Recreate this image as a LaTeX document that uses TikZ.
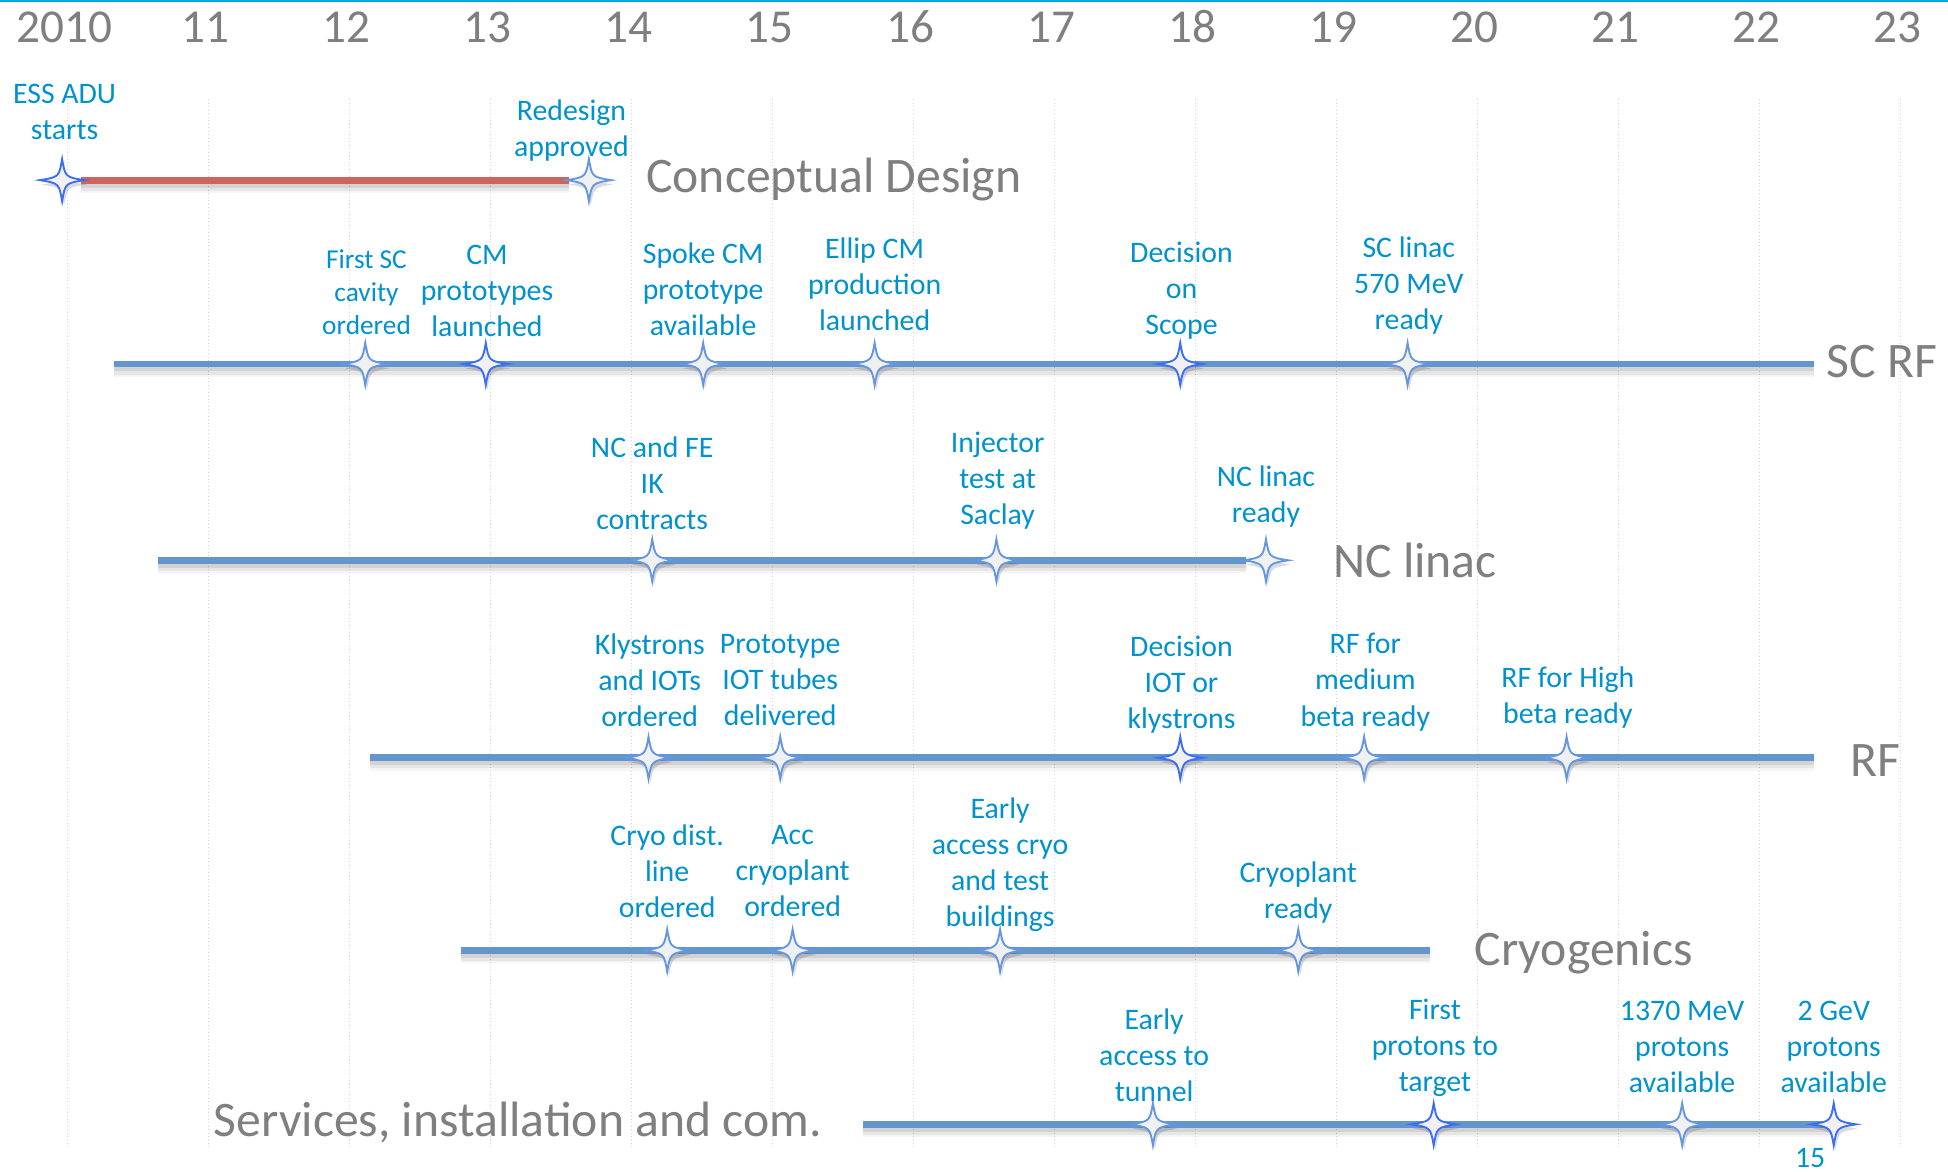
\documentclass[tikz,border=0pt]{standalone}
\usepackage{fontspec}
\setmainfont{Carlito}
\definecolor{lblue}{RGB}{0,146,206}
\definecolor{tgray}{RGB}{127,127,127}
\definecolor{lineblue}{RGB}{98,150,204}
\definecolor{linered}{RGB}{206,100,94}
\definecolor{starlight}{RGB}{100,150,225}
\definecolor{starbright}{RGB}{60,110,245}
\definecolor{gridgray}{RGB}{212,212,212}
\definecolor{topcyan}{RGB}{0,170,220}
\newcommand\tlshadow[2]{%
  \draw[black, opacity=0.04, line width=13pt] ([yshift=-4pt]#1) -- ([yshift=-4pt]#2);
  \draw[black, opacity=0.06, line width=9pt] ([yshift=-4pt]#1) -- ([yshift=-4pt]#2);
  \draw[black, opacity=0.08, line width=6pt] ([yshift=-3pt]#1) -- ([yshift=-3pt]#2);
}
\tikzset{
  pics/mstar/.style={code={
    \fill[black, opacity=0.14, shift={(1.5,3.5)}]
      (0,-17) .. controls (2.5,-2.5) .. (18,0) .. controls (2.5,2.5) .. (0,17)
      .. controls (-2.5,2.5) .. (-18,0) .. controls (-2.5,-2.5) .. cycle;
    \path[fill=gray!12, draw=#1, line width=1.5pt, line join=miter]
      (0,-17) .. controls (2.5,-2.5) .. (18,0) .. controls (2.5,2.5) .. (0,17)
      .. controls (-2.5,2.5) .. (-18,0) .. controls (-2.5,-2.5) .. cycle;
  }},
  lbl/.style={text=lblue, align=center, inner sep=0pt, yshift=-4.5pt,
    font=\fontsize{24}{29}\selectfont,
    execute at begin node=\strut, execute at end node=\strut},
  lblsmall/.style={lbl, font=\fontsize{22}{26.5}\selectfont},
  yr/.style={text=tgray, inner sep=0pt, font=\fontsize{38}{40}\selectfont,
    text height=24pt, text depth=0pt},
  ttl/.style={text=tgray, inner sep=0pt, anchor=west, font=\fontsize{40}{44}\selectfont,
    text height=25.6pt, text depth=0pt},
  bline/.style={draw=lineblue, line width=5.5pt},
  rline/.style={draw=linered, line width=5.5pt},
  gridln/.style={draw=gridgray, line width=0.8pt, dotted},
}
\begin{document}
\begin{tikzpicture}[x=1pt,y=-1pt]
\useasboundingbox (0,0) rectangle (1568,943);
\fill[white] (0,0) rectangle (1568,943);
% top border
\coordinate (topL) at (0,1); \coordinate (topR) at (1568,1);
\draw[topcyan, line width=2pt] (topL) -- (topR);
% grid and years
\foreach \k/\t in {0/2010,1/11,2/12,3/13,4/14,5/15,6/16,7/17,8/18,9/19,10/20,11/21,12/22,13/23}{
  \coordinate (g\k a) at ({54+113.5*\k},80);
  \coordinate (g\k b) at ({54+113.5*\k},925);
  \draw[gridln] (g\k a) -- (g\k b);
  \node[yr] (year\k) at ({52+113.5*\k},22) {\t};
}
% ---------- Conceptual design ----------
\coordinate (cdA) at (65,145); \coordinate (cdB) at (458,145);
\tlshadow{cdA}{cdB}
\draw[rline] (cdA) -- (cdB);
\coordinate (sEss) at (50,145); \coordinate (sRed) at (474,145);
\pic at (sEss) {mstar=starbright};
\pic at (sRed) {mstar=starlight};
\node[lbl] (ess) at (52,89.5) {ESS ADU\\starts};
\node[lbl] (redesign) at (460,103) {Redesign\\approved};
\node[ttl] (tcd) at (520,142) {Conceptual Design};
% ---------- SC RF ----------
\coordinate (scA) at (92,293); \coordinate (scB) at (1460,293);
\tlshadow{scA}{scB}
\draw[bline] (scA) -- (scB);
\coordinate (sFirst) at (294,293);
\coordinate (sCM) at (391,293);
\coordinate (sSpoke) at (566,293);
\coordinate (sEllip) at (704,293);
\coordinate (sScope) at (950,293);
\coordinate (sSClin) at (1133,293);
\pic at (sFirst) {mstar=starlight};
\pic at (sCM) {mstar=starbright};
\pic at (sSpoke) {mstar=starlight};
\pic at (sEllip) {mstar=starlight};
\pic at (sScope) {mstar=starbright};
\pic at (sSClin) {mstar=starlight};
\node[lblsmall] (firstsc) at (295,234.5) {First SC\\cavity\\ordered};
\node[lbl] (cmproto) at (392,234) {CM\\prototypes\\launched};
\node[lbl] (spoke) at (566,232.5) {Spoke CM\\prototype\\available};
\node[lbl] (ellip) at (704,228.5) {Ellip CM\\production\\launched};
\node[lbl] (decscope) at (951,232) {Decision\\on\\Scope};
\node[lbl] (sclinac) at (1134,228) {SC linac\\570 MeV\\ready};
\node[ttl] (tscrf) at (1470,291) {SC RF};
% ---------- NC linac ----------
\coordinate (ncA) at (127,451); \coordinate (ncB) at (1003,451);
\tlshadow{ncA}{ncB}
\draw[bline] (ncA) -- (ncB);
\coordinate (sNCFE) at (525,451);
\coordinate (sInj) at (802,451);
\coordinate (sNCr) at (1019,451);
\pic at (sNCFE) {mstar=starlight};
\pic at (sInj) {mstar=starlight};
\pic at (sNCr) {mstar=starlight};
\node[lbl] (ncfe) at (525,389) {NC and FE\\IK\\contracts};
\node[lbl] (injector) at (803,384.5) {Injector\\test at\\Saclay};
\node[lbl] (ncready) at (1019,397.5) {NC linac\\ready};
\node[ttl] (tnc) at (1073,452) {NC linac};
% ---------- RF ----------
\coordinate (rfA) at (298,610); \coordinate (rfB) at (1460,610);
\tlshadow{rfA}{rfB}
\draw[bline] (rfA) -- (rfB);
\coordinate (sKly) at (522,610);
\coordinate (sProt) at (628,610);
\coordinate (sIOT) at (950,610);
\coordinate (sMed) at (1098,610);
\coordinate (sHigh) at (1261,610);
\pic at (sKly) {mstar=starlight};
\pic at (sProt) {mstar=starlight};
\pic at (sIOT) {mstar=starbright};
\pic at (sMed) {mstar=starlight};
\pic at (sHigh) {mstar=starlight};
\node[lbl] (klystrons) at (523,547) {Klystrons\\and IOTs\\ordered};
\node[lbl] (prototype) at (628,547) {Prototype\\IOT tubes\\delivered};
\node[lbl] (deciot) at (951,549) {Decision\\IOT or\\klystrons};
\node[lbl] (rfmed) at (1099,547) {RF for\\medium\\beta ready};
\node[lbl] (rfhigh) at (1262,559) {RF for High\\beta ready};
\node[ttl] (trf) at (1489,612) {RF};
% ---------- Cryogenics ----------
\coordinate (crA) at (371,765); \coordinate (crB) at (1151,765);
\tlshadow{crA}{crB}
\draw[bline] (crA) -- (crB);
\coordinate (sCryo) at (537,765);
\coordinate (sAcc) at (638,765);
\coordinate (sEarly) at (805,765);
\coordinate (sCpr) at (1045,765);
\pic at (sCryo) {mstar=starlight};
\pic at (sAcc) {mstar=starlight};
\pic at (sEarly) {mstar=starlight};
\pic at (sCpr) {mstar=starlight};
\node[lbl] (cryodist) at (537,701) {Cryo dist.\\line\\ordered};
\node[lbl] (acc) at (638,701) {Acc\\cryoplant\\ordered};
\node[lbl] (early) at (805,693.5) {Early\\access cryo\\and test\\buildings};
\node[lbl] (cryoready) at (1045,716) {Cryoplant\\ready};
\node[ttl] (tcryo) at (1187,764) {Cryogenics};
% ---------- Services ----------
\coordinate (svA) at (695,905); \coordinate (svB) at (1476,905);
\tlshadow{svA}{svB}
\draw[bline] (svA) -- (svB);
\coordinate (sTun) at (928,905);
\coordinate (sFP) at (1154,905);
\coordinate (s1370) at (1354,905);
\coordinate (s2GeV) at (1476,905);
\pic at (sTun) {mstar=starlight};
\pic at (sFP) {mstar=starbright};
\pic at (s1370) {mstar=starlight};
\pic at (s2GeV) {mstar=starbright};
\node[lbl] (earlytun) at (929,849.5) {Early\\access to\\tunnel};
\node[lbl] (firstp) at (1155,841.5) {First\\protons to\\target};
\node[lbl] (p1370) at (1354,842.5) {1370 MeV\\protons\\available};
\node[lbl] (gev2) at (1476,842.5) {2 GeV\\protons\\available};
\node[ttl] (tsv) at (172,902) {Services, installation and com.};
\node[text=lblue, inner sep=0pt, font=\fontsize{24}{29}\selectfont] (pagenum) at (1457,932) {15};
\end{tikzpicture}
\end{document}
